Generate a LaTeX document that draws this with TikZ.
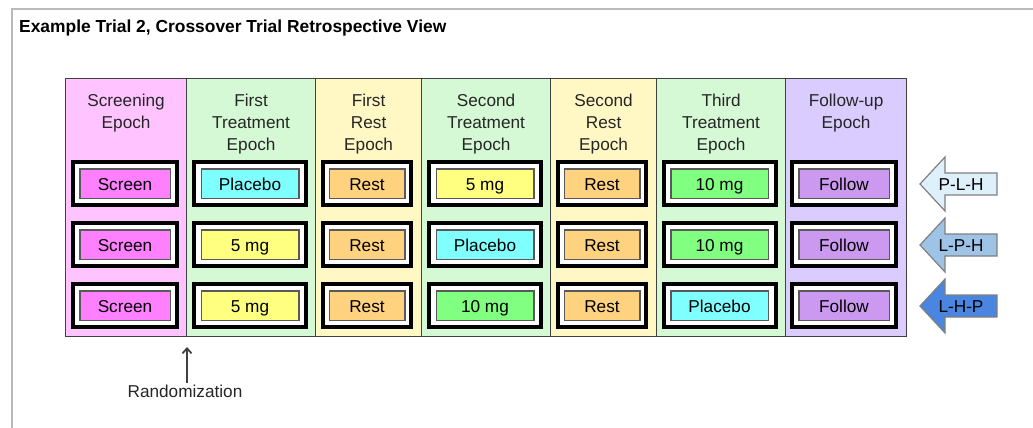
\documentclass[tikz,border=0pt]{standalone}
\usepackage{fontspec}
\setmainfont{Liberation Sans}
\usetikzlibrary{arrows.meta}
\definecolor{scrbg}{HTML}{FFC4FF}
\definecolor{trtbg}{HTML}{D5F8D5}
\definecolor{rstbg}{HTML}{FFF7C4}
\definecolor{fupbg}{HTML}{DACCFF}
\definecolor{screen}{HTML}{FF80FF}
\definecolor{placebo}{HTML}{80FFFF}
\definecolor{lowdose}{HTML}{FFFF80}
\definecolor{rest}{HTML}{FFD280}
\definecolor{highdose}{HTML}{80FF80}
\definecolor{follow}{HTML}{CC99F0}
\definecolor{seqA}{HTML}{DDF0FB}
\definecolor{seqB}{HTML}{9DC3E6}
\definecolor{seqC}{HTML}{4A86E0}
\newcommand{\dfont}{\fontsize{17.2}{22}\selectfont}
\tikzset{
  epochcol/.style={draw=black!75,line width=1.2pt,anchor=north west,minimum height=258pt,inner sep=0pt},
  headtxt/.style={anchor=north,align=center,inner sep=0pt,font=\dfont,text=black!85},
  outbox/.style={draw=black,line width=4pt,fill=white,minimum height=43pt,inner sep=0pt},
  inbox/.style={draw=black!65,line width=1.5pt,minimum height=29.5pt,inner sep=0pt,font=\dfont,text height=13pt,text depth=0pt},
  seqarrow/.style={draw=black!50,line width=1.2pt},
  seqlabel/.style={inner sep=0pt,font=\dfont,text height=13pt,text depth=0pt}
}
\newcommand{\epoch}[5]{\node[epochcol,fill=#4,minimum width=#3pt] (#1) at (#2,78) {};
  \node[headtxt] (#1h) at ([yshift=-15.5pt]#1.north) {#5};}
\newcommand{\cell}[4]{\node[outbox,minimum width=\ow] (#1o) at (\x,#2) {};
  \node[inbox,fill=#3,minimum width=\iw] (#1) at (\x,#2) {#4};}
\newcommand{\seq}[4]{\draw[seqarrow,fill=#3] (920,#2) -- (945,#2-27) -- (945,#2-11) -- (997,#2-11)
  -- (997,#2+11) -- (945,#2+11) -- (945,#2+27) -- cycle;
  \node[seqlabel] (#1) at (961,#2) {#4};}

\begin{document}
\begin{tikzpicture}[x=1pt,y=-1pt]
	\useasboundingbox (0,0) rectangle (1033,428);
	\draw[black!27,line width=2pt] (11.8,428) -- (11.8,9) -- (1033,9);
	\node[anchor=base west,inner sep=0pt,font=\fontsize{17.4}{21}\selectfont\bfseries] (title) at (19,32.5) {Example Trial 2, Crossover Trial Retrospective View};
	% epochs
	\epoch{scr}{65}{121}{scrbg}{Screening\\Epoch}
	\epoch{trtA}{186}{129}{trtbg}{First\\Treatment\\Epoch}
	\epoch{rstA}{315}{106}{rstbg}{First\\Rest\\Epoch}
	\epoch{trtB}{421}{129}{trtbg}{Second\\Treatment\\Epoch}
	\epoch{rstB}{550}{106}{rstbg}{Second\\Rest\\Epoch}
	\epoch{trtC}{656}{129}{trtbg}{Third\\Treatment\\Epoch}
	\epoch{fup}{785}{121}{fupbg}{Follow-up\\Epoch}
	% arms
	\def\x{125}\def\ow{104pt}\def\iw{90.5pt}
	\cell{scrA}{183.5}{screen}{Screen} \cell{scrB}{244.5}{screen}{Screen} \cell{scrC}{305.5}{screen}{Screen}
	\def\x{250}\def\ow{112pt}\def\iw{97.5pt}
	\cell{trtAa}{183.5}{placebo}{Placebo} \cell{trtAb}{244.5}{lowdose}{5 mg} \cell{trtAc}{305.5}{lowdose}{5 mg}
	\def\x{367}\def\ow{88pt}\def\iw{75.5pt}
	\cell{rstAa}{183.5}{rest}{Rest} \cell{rstAb}{244.5}{rest}{Rest} \cell{rstAc}{305.5}{rest}{Rest}
	\def\x{485}\def\ow{112pt}\def\iw{97.5pt}
	\cell{trtBa}{183.5}{lowdose}{5 mg} \cell{trtBb}{244.5}{placebo}{Placebo} \cell{trtBc}{305.5}{highdose}{10 mg}
	\def\x{602}\def\ow{88pt}\def\iw{75.5pt}
	\cell{rstBa}{183.5}{rest}{Rest} \cell{rstBb}{244.5}{rest}{Rest} \cell{rstBc}{305.5}{rest}{Rest}
	\def\x{719.5}\def\ow{112pt}\def\iw{97.5pt}
	\cell{trtCa}{183.5}{highdose}{10 mg} \cell{trtCb}{244.5}{highdose}{10 mg} \cell{trtCc}{305.5}{placebo}{Placebo}
	\def\x{844}\def\ow{104pt}\def\iw{90.5pt}
	\cell{fupA}{183.5}{follow}{Follow} \cell{fupB}{244.5}{follow}{Follow} \cell{fupC}{305.5}{follow}{Follow}
	% sequences
	\seq{plh}{184}{seqA}{P-L-H}
	\seq{lph}{245}{seqB}{L-P-H}
	\seq{lhp}{306}{seqC}{L-H-P}
	% randomization
	\node[anchor=base,inner sep=1.5pt,font=\dfont,text=black!85] (rand) at (185,397) {Randomization};
	\coordinate (randtip) at (187,347);
	\draw[-{Straight Barb[length=5pt,width=9pt]},line width=1.8pt,black!75] (randtip |- rand.north) -- (randtip);
\end{tikzpicture}
\end{document}
